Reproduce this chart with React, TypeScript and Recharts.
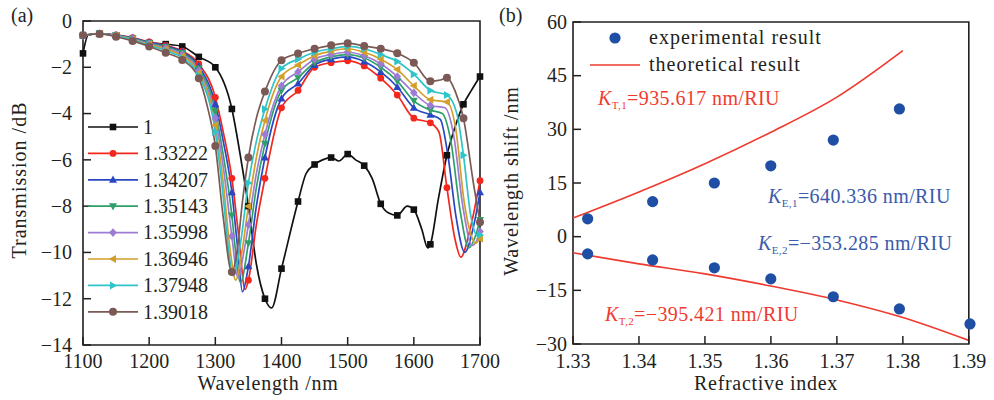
import { LineChart, Line, XAxis, YAxis, ReferenceArea, ComposedChart, Scatter } from 'recharts'

const SERIF = '"Liberation Serif", "Times New Roman", serif'
const INK = '#231f20'
const RED = '#ef3b2f'
const BLUE = '#1f4ea5'
const NOTE_BLUE = '#3a5aab'

// (a) transmission spectra, one pair of arrays per surrounding index
const wlAir = [1100, 1108, 1125, 1150, 1175, 1200, 1225, 1250, 1275, 1300, 1325, 1340, 1350, 1362, 1375, 1385, 1400, 1425, 1437, 1450, 1462, 1475, 1487, 1500, 1512, 1525, 1537, 1550, 1562, 1575, 1590, 1600, 1612, 1621, 1625, 1637, 1650, 1662, 1675, 1687, 1700]
const trAir = [-1.4, -0.6, -0.55, -0.62, -0.8, -0.95, -1.0, -1.1, -1.55, -2.0, -3.8, -6.2, -8.0, -10.5, -12.0, -12.4, -10.7, -7.8, -6.6, -6.2, -6.0, -5.9, -6.05, -5.75, -6.0, -6.25, -6.8, -7.9, -8.3, -8.4, -8.0, -8.15, -9.0, -9.8, -9.65, -7.7, -5.8, -4.6, -3.6, -3.0, -2.4]

const wlRed = [1100, 1125, 1150, 1175, 1200, 1225, 1250, 1275, 1300, 1312, 1325, 1335, 1345, 1350, 1362, 1375, 1400, 1425, 1450, 1475, 1500, 1525, 1550, 1575, 1600, 1625, 1638, 1650, 1662, 1671, 1685, 1700]
const trRed = [-0.62, -0.55, -0.6, -0.72, -0.9, -1.05, -1.3, -1.85, -3.3, -4.8, -6.8, -9.2, -11.6, -11.2, -8.8, -6.8, -3.75, -3.0, -2.0, -1.8, -1.72, -1.94, -2.47, -3.2, -4.2, -4.4, -4.8, -7.2, -9.4, -10.2, -9.0, -6.9]

const wlBlue = [1100, 1125, 1150, 1175, 1200, 1225, 1250, 1275, 1300, 1312, 1325, 1333, 1341, 1350, 1362, 1375, 1400, 1425, 1450, 1475, 1500, 1525, 1550, 1575, 1600, 1625, 1640, 1652, 1664, 1677, 1690, 1700]
const trBlue = [-0.63, -0.55, -0.61, -0.74, -0.92, -1.08, -1.33, -1.95, -3.6, -5.2, -7.4, -9.6, -11.7, -10.6, -8.0, -5.9, -3.35, -2.7, -1.9, -1.65, -1.55, -1.75, -2.2, -2.85, -3.75, -4.05, -4.25, -5.9, -8.5, -10.0, -8.9, -7.4]

const wlGreen = [1100, 1125, 1150, 1175, 1200, 1225, 1250, 1275, 1300, 1312, 1325, 1330, 1338, 1350, 1362, 1375, 1400, 1425, 1450, 1475, 1500, 1525, 1550, 1575, 1600, 1625, 1643, 1656, 1670, 1683, 1693, 1700]
const trGreen = [-0.63, -0.55, -0.62, -0.76, -0.95, -1.12, -1.38, -2.05, -3.9, -5.8, -8.4, -9.8, -11.3, -9.6, -7.2, -5.3, -3.0, -2.45, -1.8, -1.55, -1.45, -1.6, -2.0, -2.6, -3.45, -3.85, -4.0, -5.2, -8.2, -9.8, -9.3, -8.6]

const wlPurple = [1100, 1125, 1150, 1175, 1200, 1225, 1250, 1275, 1300, 1312, 1325, 1334, 1343, 1350, 1362, 1375, 1400, 1425, 1450, 1475, 1500, 1525, 1550, 1575, 1600, 1625, 1647, 1660, 1674, 1688, 1695, 1700]
const trPurple = [-0.63, -0.55, -0.63, -0.78, -0.98, -1.17, -1.45, -2.15, -4.2, -6.3, -9.3, -11.1, -10.0, -8.8, -6.6, -4.9, -2.8, -2.2, -1.65, -1.45, -1.35, -1.5, -1.85, -2.4, -3.1, -3.65, -3.75, -4.9, -8.0, -9.7, -9.5, -9.1]

const wlGold = [1100, 1125, 1150, 1175, 1200, 1225, 1250, 1275, 1300, 1312, 1322, 1331, 1340, 1350, 1362, 1375, 1400, 1425, 1450, 1475, 1500, 1525, 1550, 1575, 1600, 1625, 1650, 1663, 1676, 1686, 1693, 1700]
const trGold = [-0.62, -0.55, -0.64, -0.8, -1.01, -1.22, -1.52, -2.25, -4.5, -7.0, -9.8, -11.2, -10.0, -8.0, -5.9, -4.3, -2.4, -1.9, -1.5, -1.3, -1.2, -1.35, -1.65, -2.1, -2.8, -3.4, -3.5, -4.6, -7.8, -9.2, -9.6, -9.4]

const wlCyan = [1100, 1125, 1150, 1175, 1200, 1225, 1250, 1275, 1300, 1312, 1320, 1327, 1337, 1350, 1362, 1375, 1400, 1425, 1450, 1475, 1500, 1525, 1550, 1575, 1600, 1625, 1650, 1665, 1675, 1686, 1697, 1700]
const trCyan = [-0.62, -0.55, -0.65, -0.82, -1.05, -1.28, -1.6, -2.35, -4.8, -7.6, -9.9, -11.0, -9.8, -7.0, -5.2, -3.8, -2.05, -1.65, -1.35, -1.2, -1.1, -1.2, -1.45, -1.75, -2.3, -3.0, -3.2, -4.0, -5.8, -8.4, -9.3, -9.25]

const wlBrown = [1100, 1125, 1150, 1175, 1200, 1225, 1250, 1275, 1288, 1300, 1312, 1325, 1333, 1341, 1350, 1362, 1375, 1400, 1425, 1450, 1475, 1500, 1525, 1550, 1575, 1600, 1625, 1640, 1650, 1662, 1675, 1690, 1700]
const trBrown = [-0.62, -0.56, -0.68, -0.86, -1.1, -1.37, -1.68, -2.47, -3.7, -5.4, -8.5, -10.85, -9.9, -7.8, -5.9, -4.2, -3.05, -1.7, -1.4, -1.2, -1.05, -0.96, -1.08, -1.2, -1.39, -1.8, -2.6, -2.55, -2.45, -3.0, -4.2, -7.0, -8.7]

const wlTicks = [1100, 1200, 1300, 1400, 1500, 1600, 1700]
const trTicks = [-14, -12, -10, -8, -6, -4, -2, 0]

// (b) wavelength shift of the two dips vs refractive index
const riExp = [1.33222, 1.34207, 1.35143, 1.35998, 1.36946, 1.37948, 1.39018]
const shiftDip2 = [5.0, 9.8, 15.0, 19.8, 27.0, 35.7]
const shiftDip1 = [-4.8, -6.5, -8.7, -11.8, -16.8, -20.2, -24.4]
const riFit = [1.33, 1.34, 1.35, 1.36, 1.37, 1.38, 1.39]
const fitDip2 = [5.2, 12.5, 20.4, 29.2, 39.0, 52.0]
const fitDip1 = [-4.5, -7.6, -10.4, -13.8, -17.7, -22.6, -29.0]
const riTicks = [1.33, 1.34, 1.35, 1.36, 1.37, 1.38, 1.39]
const shiftTicks = [-30, -15, 0, 15, 30, 45, 60]

const spectra = [
  { name: '1', color: '#111111', shape: 'square', wl: wlAir, tr: trAir },
  { name: '1.33222', color: '#f4271d', shape: 'circle', wl: wlRed, tr: trRed },
  { name: '1.34207', color: '#2947c2', shape: 'up', wl: wlBlue, tr: trBlue },
  { name: '1.35143', color: '#2f9f6a', shape: 'down', wl: wlGreen, tr: trGreen },
  { name: '1.35998', color: '#9d7bd4', shape: 'diamond', wl: wlPurple, tr: trPurple },
  { name: '1.36946', color: '#d29f2b', shape: 'left', wl: wlGold, tr: trGold },
  { name: '1.37948', color: '#2ec4c9', shape: 'right', wl: wlCyan, tr: trCyan },
  { name: '1.39018', color: '#7b5955', shape: 'bigCircle', wl: wlBrown, tr: trBrown },
]

const pairs = (xs: number[], ys: number[]) => ys.map((y, i) => ({ x: xs[i], y }))
const minus = (v: number | string) => String(v).replace('-', '\u2212')

function Marker({ shape, color, cx, cy }: { shape: string; color: string; cx: number; cy: number }) {
  switch (shape) {
    case 'square':
      return <rect x={cx - 3.3} y={cy - 3.3} width={6.6} height={6.6} fill={color} />
    case 'circle':
      return <circle cx={cx} cy={cy} r={3.4} fill={color} />
    case 'bigCircle':
      return <circle cx={cx} cy={cy} r={4} fill={color} />
    case 'up':
      return <polygon points={`${cx},${cy - 4.2} ${cx + 4},${cy + 3} ${cx - 4},${cy + 3}`} fill={color} />
    case 'down':
      return <polygon points={`${cx},${cy + 4.2} ${cx + 4},${cy - 3} ${cx - 4},${cy - 3}`} fill={color} />
    case 'diamond':
      return <polygon points={`${cx},${cy - 4.4} ${cx + 3.8},${cy} ${cx},${cy + 4.4} ${cx - 3.8},${cy}`} fill={color} />
    case 'left':
      return <polygon points={`${cx - 4.2},${cy} ${cx + 3},${cy - 4} ${cx + 3},${cy + 4}`} fill={color} />
    default:
      return <polygon points={`${cx + 4.2},${cy} ${cx - 3},${cy - 4} ${cx - 3},${cy + 4}`} fill={color} />
  }
}

function LeftTick({ x, y, payload, gap }: any) {
  const ax = x + gap
  return (
    <g>
      <line x1={ax} x2={ax + 8} y1={y} y2={y} stroke={INK} strokeWidth={1.5} />
      <text x={x} y={y} dy="0.34em" textAnchor="end" fontFamily={SERIF} fontSize={20} fill={INK}>
        {minus(payload.value)}
      </text>
    </g>
  )
}

function BottomTick({ x, y, payload, gap, digits }: any) {
  const ay = y - gap
  return (
    <g>
      <line x1={x} x2={x} y1={ay} y2={ay - 8} stroke={INK} strokeWidth={1.5} />
      <text x={x} y={y} dy="0.71em" textAnchor="middle" fontFamily={SERIF} fontSize={20} fill={INK}>
        {digits ? payload.value.toFixed(digits) : payload.value}
      </text>
    </g>
  )
}

function SpectraPanel() {
  return (
    <LineChart width={520} height={400} margin={{ top: 21, right: 40, bottom: 0, left: 0 }}>
      <XAxis
        dataKey="x"
        type="number"
        domain={[1100, 1700]}
        ticks={wlTicks}
        interval={0}
        height={55}
        tickSize={0}
        tickMargin={9}
        axisLine={false}
        tickLine={false}
        tick={(p: any) => <BottomTick {...p} gap={9} />}
      />
      <YAxis
        type="number"
        domain={[-14, 0]}
        ticks={trTicks}
        interval={0}
        width={83}
        tickSize={0}
        tickMargin={11}
        axisLine={false}
        tickLine={false}
        tick={(p: any) => <LeftTick {...p} gap={11} />}
      />
      <ReferenceArea x1={1100} x2={1700} y1={-14} y2={0} fill="none" stroke={INK} strokeWidth={1.6} ifOverflow="visible" />
      {spectra.map((s) => (
        <Line
          key={s.name}
          data={pairs(s.wl, s.tr)}
          dataKey="y"
          type="monotone"
          stroke={s.color}
          strokeWidth={1.7}
          isAnimationActive={false}
          activeDot={false}
          dot={(p: any) => (
            <g key={`${s.name}-${p.index}`}>
              {p.payload.x % 25 === 0 ? <Marker shape={s.shape} color={s.color} cx={p.cx} cy={p.cy} /> : null}
            </g>
          )}
        />
      ))}
    </LineChart>
  )
}

function ShiftPanel() {
  return (
    <ComposedChart width={500} height={400} margin={{ top: 22, right: 24, bottom: 0, left: 0 }}>
      <XAxis
        dataKey="x"
        type="number"
        domain={[1.33, 1.39]}
        ticks={riTicks}
        interval={0}
        height={56}
        tickSize={0}
        tickMargin={10}
        axisLine={false}
        tickLine={false}
        tick={(p: any) => <BottomTick {...p} gap={10} digits={2} />}
      />
      <YAxis
        dataKey="y"
        type="number"
        domain={[-30, 60]}
        ticks={shiftTicks}
        interval={0}
        width={79}
        tickSize={0}
        tickMargin={6}
        axisLine={false}
        tickLine={false}
        tick={(p: any) => <LeftTick {...p} gap={6} />}
      />
      <ReferenceArea x1={1.33} x2={1.39} y1={-30} y2={60} fill="none" stroke={INK} strokeWidth={1.6} ifOverflow="visible" />
      <Line data={pairs(riFit, fitDip2)} dataKey="y" type="monotone" stroke={RED} strokeWidth={1.7} dot={false} activeDot={false} isAnimationActive={false} />
      <Line data={pairs(riFit, fitDip1)} dataKey="y" type="monotone" stroke={RED} strokeWidth={1.7} dot={false} activeDot={false} isAnimationActive={false} />
      <Scatter
        data={pairs(riExp, shiftDip2)}
        fill={BLUE}
        isAnimationActive={false}
        shape={(p: any) => <circle cx={p.cx} cy={p.cy} r={5.6} fill={BLUE} />}
      />
      <Scatter
        data={pairs(riExp, shiftDip1)}
        fill={BLUE}
        isAnimationActive={false}
        shape={(p: any) => <circle cx={p.cx} cy={p.cy} r={5.6} fill={BLUE} />}
      />
    </ComposedChart>
  )
}

function Note({ x, y, color, sub, rest }: { x: number; y: number; color: string; sub: string; rest: string }) {
  return (
    <text x={x} y={y} fill={color} fontSize={20} letterSpacing={0.4}>
      <tspan fontStyle="italic">K</tspan>
      <tspan fontSize={11} dy={4}>{sub}</tspan>
      <tspan dy={-4}>{rest}</tspan>
    </text>
  )
}

export default function App() {
  return (
    <div style={{ position: 'absolute', left: 0, top: 0, width: 994, height: 400, background: '#fff', fontFamily: SERIF, overflow: 'hidden' }}>
      <div style={{ position: 'absolute', left: 0, top: 0 }}>
        <SpectraPanel />
      </div>
      <div style={{ position: 'absolute', left: 494, top: 0 }}>
        <ShiftPanel />
      </div>
      <svg width={994} height={400} style={{ position: 'absolute', left: 0, top: 0, pointerEvents: 'none' }} fontFamily={SERIF} fill={INK}>
        <text x={11} y={22} fontSize={20}>(a)</text>
        <text x={499} y={22} fontSize={20}>(b)</text>

        <text x={26} y={180} fontSize={20} textAnchor="middle" letterSpacing={1} transform="rotate(-90 26 180)">
          Transmission /dB
        </text>
        <text x={268} y={390} fontSize={20} textAnchor="middle" letterSpacing={0.7}>Wavelength /nm</text>
        <text x={518} y={181} fontSize={20} textAnchor="middle" letterSpacing={0.9} transform="rotate(-90 518 181)">
          Wavelength shift /nm
        </text>
        <text x={766} y={390} fontSize={20} textAnchor="middle" letterSpacing={0.7}>Refractive index</text>

        {spectra.map((s, i) => {
          const cy = 127 + i * 26.4
          return (
            <g key={s.name}>
              <line x1={88} x2={138} y1={cy} y2={cy} stroke={s.color} strokeWidth={1.7} />
              <Marker shape={s.shape} color={s.color} cx={113} cy={cy} />
              <text x={143} y={cy + 6.8} fontSize={20}>{s.name}</text>
            </g>
          )
        })}

        <circle cx={615} cy={38} r={5.6} fill={BLUE} />
        <text x={649} y={44} fontSize={20} letterSpacing={1}>experimental result</text>
        <line x1={590} x2={640} y1={65} y2={65} stroke={RED} strokeWidth={1.7} />
        <text x={649} y={71} fontSize={20} letterSpacing={1}>theoretical result</text>

        <Note x={598} y={105} color={RED} sub="T,1" rest="=935.617 nm/RIU" />
        <Note x={768} y={203} color={NOTE_BLUE} sub="E,1" rest="=640.336 nm/RIU" />
        <Note x={758} y={250} color={NOTE_BLUE} sub="E,2" rest={'=\u2212353.285 nm/RIU'} />
        <Note x={605} y={321} color={RED} sub="T,2" rest={'=\u2212395.421 nm/RIU'} />
      </svg>
    </div>
  )
}
